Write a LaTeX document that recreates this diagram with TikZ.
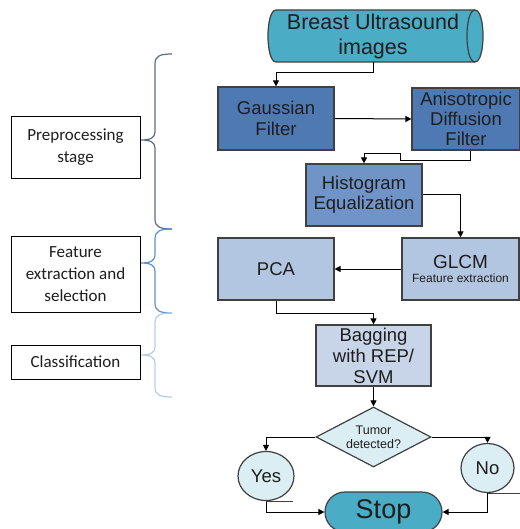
\documentclass[tikz,border=0pt]{standalone}
\usepackage{fontspec}
\setmainfont{Liberation Sans}
\newfontfamily\calfont{Carlito}
\usetikzlibrary{arrows.meta,shapes.geometric,shapes.misc}
\definecolor{bordc}{RGB}{64,64,64}
\definecolor{txtc}{RGB}{30,30,30}
\definecolor{cylc}{RGB}{75,172,198}
\definecolor{dblue}{RGB}{79,121,178}
\definecolor{mblue}{RGB}{112,148,199}
\definecolor{lblue}{RGB}{179,198,225}
\definecolor{bagc}{RGB}{200,212,232}
\definecolor{palec}{RGB}{218,238,243}
\definecolor{bracea}{RGB}{90,108,135}
\definecolor{braceb}{RGB}{91,143,208}
\definecolor{bracec}{RGB}{181,204,232}
\newcommand\stagebrace[4]{\draw[#1, line width=1.2] (172,#2) .. controls (160,#2) and (155,#2+2) .. (155,#2+10) -- (155,#3-8) .. controls (155,#3-2) and (150,#3) .. (141,#3) .. controls (150,#3) and (155,#3+2) .. (155,#3+8) -- (155,#4-10) .. controls (155,#4-2) and (160,#4) .. (172,#4);}
\begin{document}
\begin{tikzpicture}[x=1pt,y=-1pt,
  box/.style={draw=bordc, line width=1.2, text=txtc, align=center, inner sep=0},
  big/.style={font=\fontsize{18.5}{21}\selectfont},
  stagebox/.style={draw=black, line width=0.9, fill=white, text=txtc, align=center, inner sep=0, minimum width=129, font=\calfont\fontsize{17}{22}\selectfont},
  arr/.style={draw=black, line width=1, -{Triangle[length=6,width=6]}},
  plain/.style={draw=bordc, line width=1}]
\useasboundingbox (0,0) rectangle (519,529);
% cylinder
\path[fill=cylc, draw=bordc, line width=1.2] (276,10) -- (475,10) .. controls (485.7,10) and (485.7,62) .. (475,62) -- (276,62) .. controls (265.3,62) and (265.3,10) .. (276,10) -- cycle;
\draw[bordc, line width=1.2] (475,10) .. controls (464.3,10) and (464.3,62) .. (475,62);
\node[text=txtc, align=center, inner sep=0, minimum width=215, minimum height=52, font=\fontsize{21.5}{25}\selectfont] (cyl) at (373,36) {Breast Ultrasound\\images};
% process boxes
\node[box, big, fill=dblue, minimum width=116, minimum height=63] (gauss) at (276,118.5) {Gaussian\\Filter};
\node[box, big, fill=dblue, minimum width=108, minimum height=62, font=\fontsize{18.5}{20}\selectfont] (aniso) at (466,119) {Anisotropic\\Diffusion\\Filter};
\node[box, big, fill=mblue, minimum width=116, minimum height=62, font=\fontsize{18.5}{20}\selectfont] (hist) at (364,195) {Histogram\\Equalization};
\node[box, fill=lblue, minimum width=117, minimum height=62] (glcm) at (460.5,269) {{\fontsize{19}{19}\selectfont GLCM}\\[2pt]{\fontsize{12}{12}\selectfont Feature extraction}};
\node[box, big, fill=lblue, minimum width=116, minimum height=62] (pca) at (276,269) {PCA};
\node[box, big, fill=bagc, minimum width=115, minimum height=61] (bag) at (373.5,355.5) {Bagging\\with REP/\\SVM};
\node[box, diamond, aspect=1.9, fill=palec, minimum width=115, minimum height=60, font=\fontsize{12.5}{14}\selectfont] (dia) at (373.5,437) {Tumor\\detected?};
\node[box, big, ellipse, fill=palec, minimum width=56, minimum height=49] (yes) at (266,476) {Yes};
\node[box, big, ellipse, fill=palec, minimum width=53, minimum height=49] (no) at (487.5,468) {No};
\node[box, rounded rectangle, fill=cylc, minimum width=117, minimum height=40, font=\fontsize{27}{27}\selectfont] (stop) at (383.5,512) {Stop};
% connectors
\draw[arr] (cyl.south) -- ++(0,10) -| (gauss.north);
\draw[arr] (gauss.east) -- (aniso.west);
\draw[arr] ([xshift=4]aniso.south) -- ++(0,10) -| ++(-70,-7) -| (hist.north);
\draw[arr] (hist.east) -| (glcm.north);
\draw[arr] (glcm.west) -- (pca.east);
\draw[arr] (pca.south) -- ++(0,13) -| (bag.north);
\draw[arr] (bag.south) -- (dia.north);
\draw[arr] (dia.west) -| (yes.north);
\draw[arr] (dia.east) -| (no.north);
\draw[arr] (yes.south) |- (stop.west);
\draw[arr] (no.south) |- (stop.east);
\draw[plain] (yes.south) -- ++(27,0);
\draw[plain] (no.south) -- ++(32,0);
% stages
\node[stagebox, minimum height=62] (prep) at (75.5,147) {Preprocessing\\stage};
\node[stagebox, minimum height=76] (feat) at (75.5,274) {Feature\\extraction and\\selection};
\node[stagebox, minimum height=34] (cls) at (75.5,362) {Classification};
\stagebrace{bracea}{54}{140}{229}
\stagebrace{braceb}{229}{263}{313}
\stagebrace{bracec}{313}{355}{397}
\end{tikzpicture}
\end{document}
